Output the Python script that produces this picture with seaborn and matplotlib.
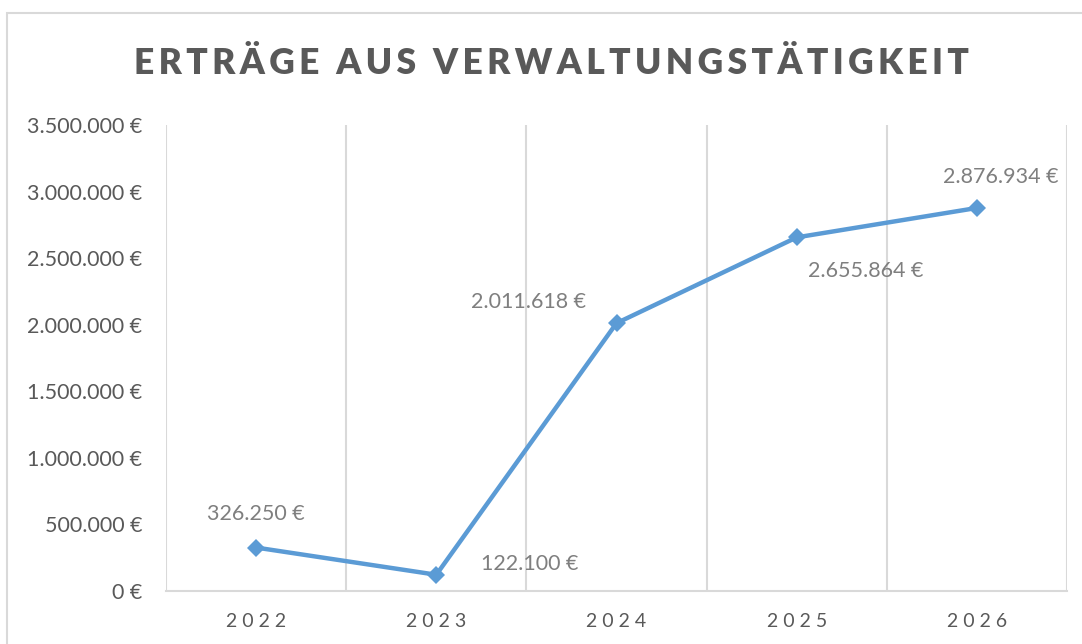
import matplotlib.pyplot as plt
import numpy as np
import pandas as pd
import seaborn as sns
from matplotlib.patches import Rectangle

# Daten
jahre = ["2022", "2023", "2024", "2025", "2026"]
ertraege = [326250, 122100, 2011618, 2655864, 2876934]
y_ticks = [0, 500000, 1000000, 1500000, 2000000, 2500000, 3000000, 3500000]
titel = "ERTRÄGE AUS VERWALTUNGSTÄTIGKEIT"

BLAU = "#5B9BD5"
GRID = "#D9D9D9"
TEXT = "#595959"
LABEL = "#7F7F7F"


def euro(v: float) -> str:
    return f"{v:,.0f}".replace(",", ".") + " €"


def spaced(s: str, sep: str = " ") -> str:
    return sep.join(s)


sns.set_theme(style="white")
plt.rcParams["font.family"] = ["Lato", "DejaVu Sans"]

df = pd.DataFrame({"Jahr": jahre, "Ertrag": ertraege})

fig = plt.figure(figsize=(10.82, 6.44), dpi=100)
ax = fig.add_axes([166 / 1082, 1 - 591 / 644, (1067 - 166) / 1082, (591 - 125) / 644])

# Rahmen um das Diagramm
fig.patches.append(Rectangle((7 / 1082, -0.1), 1.2, 1 - 13 / 644 + 0.1,
                             transform=fig.transFigure, fill=False,
                             edgecolor=GRID, linewidth=1.5))

sns.lineplot(data=df, x="Jahr", y="Ertrag", ax=ax, color=BLAU, linewidth=3.2,
             marker="D", markersize=9, markeredgewidth=0, sort=False)

ax.set_xlim(-0.5, len(jahre) - 0.5)
ax.set_ylim(0, 3500000)
ax.set_yticks(y_ticks)
ax.set_yticklabels([euro(v) for v in y_ticks])
ax.set_xticks(range(len(jahre)))
ax.set_xticklabels([spaced(j) for j in jahre])
ax.set_xticks(np.arange(-0.5, len(jahre)), minor=True)
ax.grid(False)
ax.grid(True, which="minor", axis="x", color=GRID, linewidth=1.5)
ax.tick_params(axis="y", length=0, pad=17, labelsize=15.5, labelcolor=TEXT)
ax.tick_params(axis="x", which="both", length=0, pad=16, labelsize=14, labelcolor=TEXT)
ax.set_xlabel("")
ax.set_ylabel("")
for side in ["top", "right", "left"]:
    ax.spines[side].set_visible(False)
ax.spines["bottom"].set_color(GRID)
ax.spines["bottom"].set_linewidth(1.5)

# Datenbeschriftungen (Versatz in Punkten)
offsets = [(0, 24, "center"), (32, 8, "left"), (-22, 15, "right"),
           (8, -24, "left"), (17, 22, "center")]
for i, (v, (dx, dy, ha)) in enumerate(zip(ertraege, offsets)):
    ax.annotate(euro(v), (i, v), xytext=(dx, dy), textcoords="offset points",
                ha=ha, va="center", fontsize=15.5, color=LABEL)

fig.text(551 / 1082, 1 - 63 / 644, spaced(titel, "\u2009"), ha="center", va="center",
         fontsize=25.5, fontweight="heavy", color=TEXT)

fig.savefig("out.png", dpi=100)
